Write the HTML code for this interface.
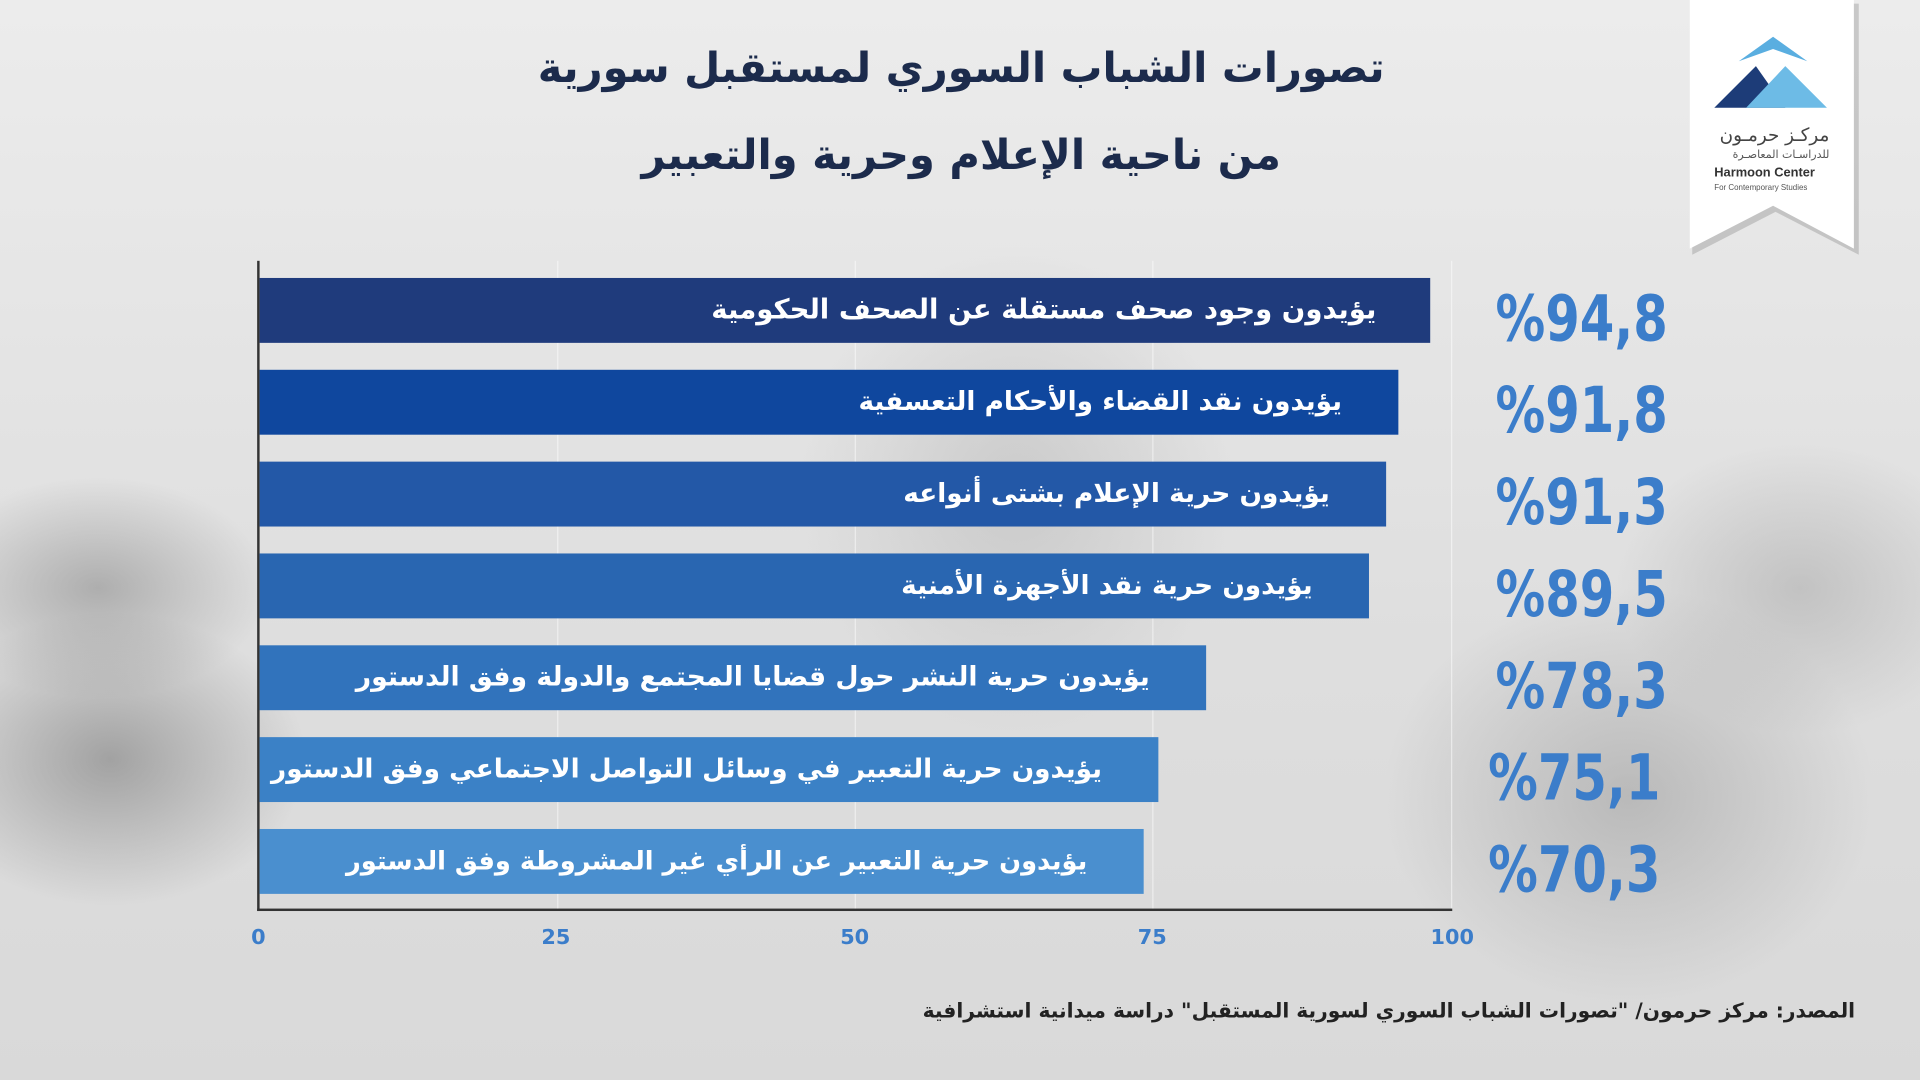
<!DOCTYPE html>
<html><head><meta charset="utf-8"><style>
html,body{margin:0;padding:0;width:1920px;height:1080px;overflow:hidden;background:#e3e3e3}
#w{position:absolute;left:0;top:0;width:1568px;height:882px;transform:scale(1.22449);transform-origin:0 0;font-family:"DejaVu Sans",sans-serif;
background:
radial-gradient(ellipse 160px 120px at 90px 620px,rgba(90,90,90,.45),transparent),
radial-gradient(ellipse 140px 90px at 80px 480px,rgba(100,100,100,.4),transparent),
radial-gradient(ellipse 200px 170px at 1330px 650px,rgba(120,120,120,.35),transparent),
radial-gradient(ellipse 150px 120px at 1470px 480px,rgba(140,140,140,.35),transparent),
radial-gradient(ellipse 180px 200px at 830px 400px,rgba(150,150,150,.3),transparent),
linear-gradient(#ececec,#dedede 60%,#d9d9d9);}
.t{position:absolute;left:300px;width:970px;text-align:center;color:#1c2b4c;font-weight:bold;font-size:34px;direction:rtl}
.bar{position:absolute;left:212px;height:53px;color:#fff;font-weight:bold;font-size:22.5px;direction:rtl;line-height:53px;box-sizing:border-box;padding-right:46px;white-space:nowrap}
.p{position:absolute;left:1170px;width:192px;text-align:right;color:#3b7dca;font-weight:bold;font-size:52px;line-height:53px;direction:ltr;transform:scaleX(0.78);transform-origin:right center}
.g{position:absolute;top:213px;height:530px;width:1px;background:rgba(255,255,255,.5)}
.tk{position:absolute;top:756px;width:60px;margin-left:-30px;text-align:center;color:#3b7dca;font-weight:bold;font-size:17px}
</style></head><body><div id="w">
<div class="t" style="top:36px">تصورات الشباب السوري لمستقبل سورية</div>
<div class="t" style="top:107px">من ناحية الإعلام وحرية والتعبير</div>

<div class="g" style="left:455px"></div><div class="g" style="left:698px"></div><div class="g" style="left:941px"></div><div class="g" style="left:1185px"></div>
<div style="position:absolute;left:210px;top:213px;width:2px;height:531px;background:#333"></div>
<div style="position:absolute;left:210px;top:742px;width:976px;height:2px;background:#333"></div>

<div class="bar" style="top:227px;width:956px;background:#1f3b7c;padding-right:44px">يؤيدون وجود صحف مستقلة عن الصحف الحكومية</div>
<div class="bar" style="top:302px;width:930px;background:#0f479e;font-size:21.5px">يؤيدون نقد القضاء والأحكام التعسفية</div>
<div class="bar" style="top:377px;width:920px;background:#2358a7;font-size:21.5px">يؤيدون حرية الإعلام بشتى أنواعه</div>
<div class="bar" style="top:452px;width:906px;background:#2966b1;font-size:21.5px">يؤيدون حرية نقد الأجهزة الأمنية</div>
<div class="bar" style="top:527px;width:773px;background:#3173bc;font-size:21.8px">يؤيدون حرية النشر حول قضايا المجتمع والدولة وفق الدستور</div>
<div class="bar" style="top:602px;width:734px;background:#3b81c6;font-size:21.5px">يؤيدون حرية التعبير في وسائل التواصل الاجتماعي وفق الدستور</div>
<div class="bar" style="top:677px;width:722px;background:#4a8fcf;font-size:21px">يؤيدون حرية التعبير عن الرأي غير المشروطة وفق الدستور</div>

<div class="p" style="top:235px">%94,8</div>
<div class="p" style="top:310px">%91,8</div>
<div class="p" style="top:385px">%91,3</div>
<div class="p" style="top:460px">%89,5</div>
<div class="p" style="top:535px">%78,3</div>
<div class="p" style="top:610px;left:1164px">%75,1</div>
<div class="p" style="top:685px;left:1164px">%70,3</div>

<div class="tk" style="left:211px">0</div><div class="tk" style="left:454px">25</div><div class="tk" style="left:698px">50</div><div class="tk" style="left:941px">75</div><div class="tk" style="left:1186px">100</div>

<div style="position:absolute;right:53px;top:816px;font-size:16.5px;font-weight:bold;color:#222;direction:rtl">المصدر: مركز حرمون/ "تصورات الشباب السوري لسورية المستقبل" دراسة ميدانية استشرافية</div>

<svg style="position:absolute;left:1376px;top:0" width="145" height="212">
<polygon points="4,0 140,0 140,205 72,170 4,205" fill="#000" opacity=".15" transform="translate(2,3)"/>
<polygon points="4,0 138,0 138,203 72,168 4,203" fill="#fff"/>
<polygon points="24,88 58,54 82,88" fill="#1d3c78"/>
<polygon points="50,88 82,54 116,88" fill="#6dbbe6"/>
<polygon points="44,50 72,30 100,50 72,40" fill="#5aaee0"/>
<text x="118" y="115" font-size="15" text-anchor="end" fill="#444" font-family="DejaVu Sans">مركـز حرمـون</text>
<text x="118" y="129" font-size="9" text-anchor="end" fill="#555" font-family="DejaVu Sans">للدراسـات المعاصـرة</text>
<text x="24" y="144" font-size="10.5" font-weight="bold" fill="#333" font-family="Liberation Sans">Harmoon Center</text>
<text x="24" y="155" font-size="6.5" fill="#555" font-family="Liberation Sans">For Contemporary Studies</text>
</svg>
</div></body></html>
